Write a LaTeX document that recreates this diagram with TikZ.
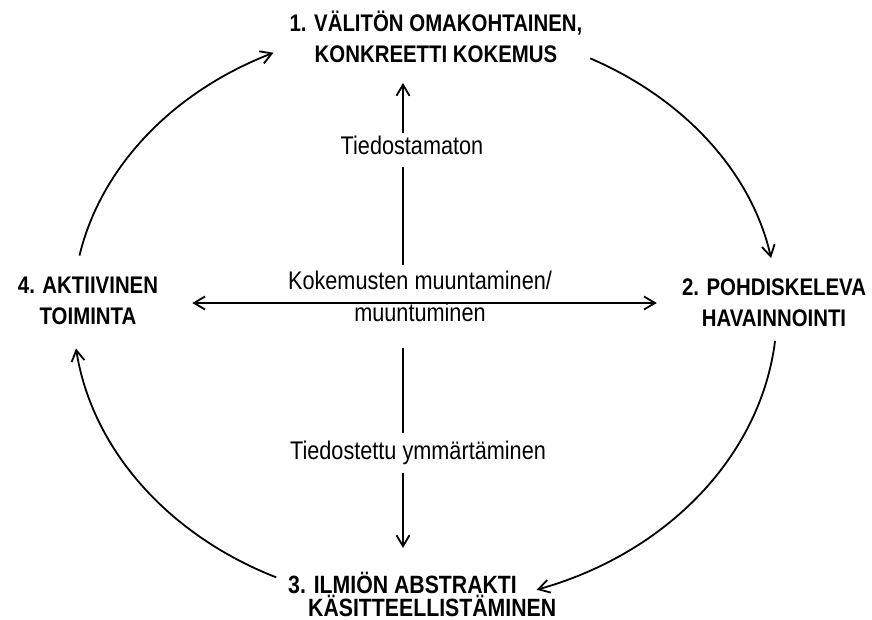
\documentclass[tikz,border=0pt]{standalone}
\usepackage{fontspec}
\newfontfamily\hv{Liberation Sans}[FakeStretch=0.85]
\usetikzlibrary{arrows.meta,calc}
\begin{document}
\begin{tikzpicture}[x=1pt,y=1pt,
  lbl/.style={inner sep=0pt, anchor=base, font=\hv\fontsize{25.5}{32}\selectfont},
  stage/.style={inner sep=0pt, align=center, anchor=south, font=\hv\bfseries\fontsize{24}{31}\selectfont},
  conn/.style={line width=1.8pt},
  tip/.tip={Straight Barb[length=11pt,width=13pt,line join=miter]},
  arr/.style={conn, -tip},
]
\useasboundingbox (0,0) rectangle (872,620);

% the four stages of the cycle
\node[stage] (n1) at (436,557) {1. VÄLITÖN OMAKOHTAINEN,\\KONKREETTI KOKEMUS};
\node[stage] (n2) at (774,293) {2. POHDISKELEVA\\HAVAINNOINTI};
\node[stage] (n4) at (88,295) {4. AKTIIVINEN\\TOIMINTA};
\node[stage, align=left, anchor=south west, font=\hv\bfseries\fontsize{25}{23}\selectfont]
  (n3) at (288,3.5) {3. ILMIÖN ABSTRAKTI\\\hspace*{20pt}KÄSITTEELLISTÄMINEN};

% labels on the axes
\node[lbl] (t1) at (412,465) {Tiedostamaton};
\node[lbl, align=center, anchor=south] (m) at (420,298) {Kokemusten muuntaminen/\\muuntuminen};
\node[lbl] (t2) at (418,160) {Tiedostettu ymmärtäminen};

% crossing point of the axes
\coordinate (x0) at (403,317);

% vertical axis
\draw[conn, shorten <=5.5pt, shorten >=12pt] (m.north -| x0) -- (t1.south -| x0);
\draw[arr, shorten <=3.5pt, shorten >=20pt] (t1.north -| x0) -- (n1.south -| x0);
\draw[conn, shorten <=26pt, shorten >=8.5pt] (m.south -| x0) -- (t2.north -| x0);
\draw[arr, shorten <=7.5pt, shorten >=23.5pt] (t2.south -| x0) -- (n3.north -| x0);

% horizontal axis
\draw[conn, tip-tip, shorten <=34pt, shorten >=25pt] (n4.east |- x0) -- (n2.west |- x0);

% the cycle
\coordinate (ec) at (425,310);
\coordinate (s41) at ($(ec)+(169:352pt and 285pt)$);
\coordinate (s12) at ($(ec)+(62:352pt and 285pt)$);
\coordinate (s23) at ($(ec)+(-6:352pt and 295pt)$);
\coordinate (s34) at ($(ec)+(-115:352pt and 295pt)$);
\draw[arr] (s41) arc[start angle=169, end angle=115.5, x radius=352pt, y radius=285pt];
\draw[arr] (s12) arc[start angle=62, end angle=10.5, x radius=352pt, y radius=285pt];
\draw[arr] (s23) arc[start angle=-6, end angle=-71.5, x radius=352pt, y radius=295pt];
\draw[arr] (s34) arc[start angle=-115, end angle=-172.5, x radius=352pt, y radius=295pt];
\end{tikzpicture}
\end{document}
